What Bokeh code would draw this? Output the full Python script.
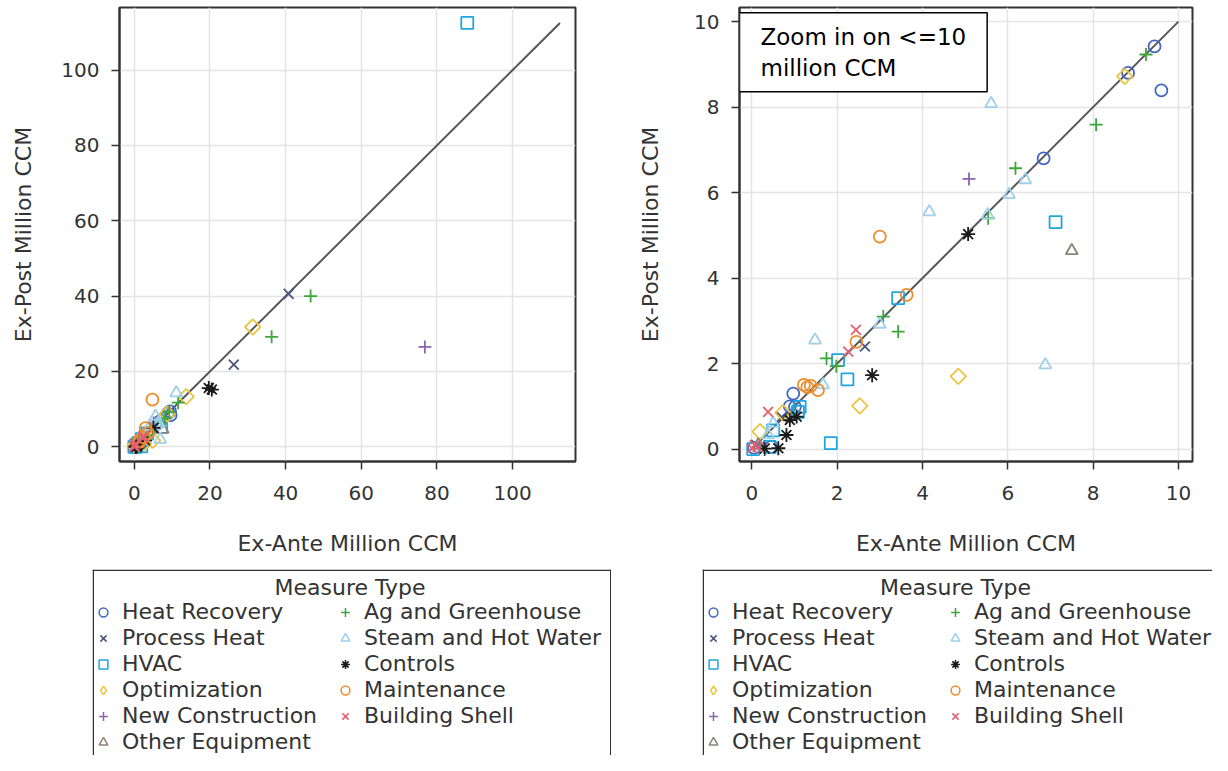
import math
from bokeh.plotting import figure
from bokeh.models import Range1d, FixedTicker, Legend, LegendItem, Label, Span, Spacer
from bokeh.layouts import row, column
from bokeh.embed import file_html
from bokeh.resources import INLINE

# ---------------- data (Ex-Ante, Ex-Post, million CCM) ----------------
categories = ["Heat Recovery", "Process Heat", "HVAC", "Optimization", "New Construction",
              "Other Equipment", "Ag and Greenhouse", "Steam and Hot Water", "Controls",
              "Maintenance", "Building Shell"]

heat_recovery_ante = [9.44, 8.82, 9.60, 6.84, 0.97, 0.89, 1.01, 0.46, 0.05]
heat_recovery_post = [9.42, 8.80, 8.39, 6.80, 1.30, 1.00, 0.99, 0.05, 0.03]
process_heat_ante = [40.8, 26.3, 2.65, 0.10, 0.70]
process_heat_post = [40.6, 21.8, 2.40, 0.10, 0.75]
hvac_ante = [88.0, 7.12, 3.43, 2.02, 2.24, 1.85, 1.08, 1.12, 0.50, 0.42, 0.03]
hvac_post = [112.5, 5.31, 3.53, 2.08, 1.63, 0.14, 0.87, 0.99, 0.44, 0.05, 0.00]
optimization_ante = [31.3, 13.7, 8.74, 4.84, 2.53, 0.19, 0.73]
optimization_post = [31.8, 13.3, 8.72, 1.70, 1.01, 0.41, 0.85]
new_construction_ante = [76.8, 5.09]
new_construction_post = [26.5, 6.32]
other_equipment_ante = [7.50, 0.15]
other_equipment_post = [4.64, 0.10]
ag_greenhouse_ante = [46.6, 36.3, 11.6, 9.24, 8.07, 6.18, 5.54, 3.08, 3.43, 1.75, 1.98]
ag_greenhouse_post = [40.0, 29.2, 11.7, 9.23, 7.59, 6.57, 5.40, 3.10, 2.75, 2.12, 1.94]
steam_hot_water_ante = [11.1, 5.61, 6.41, 6.03, 4.16, 5.53, 3.00, 1.48, 6.88, 1.67, 0.50, 0.38]
steam_hot_water_post = [14.3, 8.08, 6.30, 5.95, 5.55, 5.48, 2.92, 2.55, 1.97, 1.50, 0.60, 0.33]
controls_ante = [19.7, 20.5, 5.07, 2.82, 0.89, 1.05, 0.81, 0.62, 0.30]
controls_post = [15.6, 15.2, 5.03, 1.73, 0.68, 0.76, 0.33, 0.02, 0.01]
maintenance_ante = [4.8, 3.00, 3.63, 2.45, 1.22, 1.38, 1.55, 1.30]
maintenance_post = [12.5, 4.97, 3.61, 2.51, 1.50, 1.48, 1.38, 1.45]
building_shell_ante = [2.44, 2.26, 0.38, 0.07, 0.14, 0.00]
building_shell_post = [2.79, 2.28, 0.87, 0.09, 0.05, 0.02]

series = [
    (heat_recovery_ante, heat_recovery_post), (process_heat_ante, process_heat_post),
    (hvac_ante, hvac_post), (optimization_ante, optimization_post),
    (new_construction_ante, new_construction_post), (other_equipment_ante, other_equipment_post),
    (ag_greenhouse_ante, ag_greenhouse_post), (steam_hot_water_ante, steam_hot_water_post),
    (controls_ante, controls_post), (maintenance_ante, maintenance_post),
    (building_shell_ante, building_shell_post),
]

full_ticks = [0, 20, 40, 60, 80, 100]
zoom_ticks = [0, 2, 4, 6, 8, 10]
full_range = (-3.9, 116.6)
zoom_range = (-0.29, 10.33)
all_values = [v for a, b in series for v in a + b]
diag_full = [0, max(all_values)]
diag_zoom = [0, 10]

# ---------------- styles ----------------
markers = ["circle", "x", "square", "square", "cross", "triangle", "cross", "triangle",
           "asterisk", "circle", "x"]
legend_markers = ["circle", "x", "square", "diamond", "cross", "triangle", "cross", "triangle",
                  "asterisk", "circle", "x"]
angles = [0, 0, 0, math.pi / 4, 0, 0, 0, 0, 0, 0, 0]
sizes = [12, 14, 12, 11, 13, 12, 13, 12, 14, 12, 14]
colors = ["#4267c2", "#4a5580", "#1fa6df", "#eac443", "#8d63b0", "#8e8378", "#3da63a",
          "#9fd0ea", "#1a1a1a", "#ee8c2c", "#e06070"]

FONT = "DejaVu Sans"
TXT = "#333333"
ROW1_H = 569
LEG_H = 186


def make_panel(width, border_left, border_right, rng, ticks, diag, label_standoff_y):
    p = figure(width=width, height=ROW1_H, output_backend="svg", toolbar_location=None,
               x_range=Range1d(*rng), y_range=Range1d(*rng),
               min_border_left=border_left, min_border_right=border_right,
               min_border_top=7, min_border_bottom=ROW1_H - 7 - 454,
               x_axis_label="Ex-Ante Million CCM", y_axis_label="Ex-Post Million CCM")
    p.xaxis.ticker = FixedTicker(ticks=ticks)
    p.yaxis.ticker = FixedTicker(ticks=ticks)
    for ax in (p.xaxis[0], p.yaxis[0]):
        ax.major_label_text_font = FONT
        ax.major_label_text_font_size = "20px"
        ax.major_label_text_color = TXT
        ax.axis_label_text_font = FONT
        ax.axis_label_text_font_size = "22px"
        ax.axis_label_text_font_style = "normal"
        ax.axis_label_text_color = TXT
        ax.major_tick_in = 0
        ax.major_tick_out = 8
        ax.minor_tick_in = 0
        ax.minor_tick_out = 0
        ax.major_tick_line_color = "#333333"
        ax.major_tick_line_width = 1.5
        ax.axis_line_color = "#333333"
        ax.axis_line_width = 2
    p.xaxis.major_label_standoff = 16
    p.yaxis.major_label_standoff = 12
    p.xaxis.axis_label_standoff = 28
    p.yaxis.axis_label_standoff = label_standoff_y
    p.grid.grid_line_color = "#e4e4e4"
    p.grid.grid_line_width = 1.5
    p.outline_line_color = "#333333"
    p.outline_line_width = 2
    p.outline_line_alpha = 1
    p.line(diag, diag, line_color="#555555", line_width=2)
    for (xa, ya), m, a, s, c in zip(series, markers, angles, sizes, colors):
        p.scatter(xa, ya, marker=m, angle=a, size=s, fill_color=None, line_color=c,
                  line_width=1.8)
    return p


p1 = make_panel(600, 119, 25, full_range, full_ticks, diag_full, 22)
p2 = make_panel(612, 139, 20, zoom_range, zoom_ticks, diag_zoom, 28)

p2.add_layout(Label(x=zoom_range[0], y=10.21, text="Zoom in on <=10\nmillion CCM",
                    text_align="left", text_baseline="top", text_font=FONT,
                    text_font_size="23px", text_color="black", padding=(21, 11),
                    border_line_color="black", border_line_width=1.5,
                    background_fill_color="white"))


def legend_fig(width, height, right_border):
    lf = figure(width=width, height=height, output_backend="svg", toolbar_location=None,
                x_range=Range1d(0, width), y_range=Range1d(0, height),
                x_axis_location=None, y_axis_location=None, min_border=0)
    lf.grid.visible = False
    lf.outline_line_color = None
    items = []
    for cat, m, c in zip(categories, legend_markers, colors):
        r = lf.scatter([float("nan")], [float("nan")], marker=m, size=10,
                       fill_color=None, line_color=c, line_width=1.5)
        items.append(LegendItem(label=cat, renderers=[r]))
    leg = Legend(items=items, location="top_left", orientation="vertical", nrows=6,
                 margin=0, padding=5, spacing=1, glyph_width=22, glyph_height=22,
                 label_height=25, label_width=211, label_standoff=8,
                 title=" ", title_text_font_size="22px", title_standoff=4,
                 border_line_color=None, background_fill_alpha=0,
                 label_text_font=FONT, label_text_font_size="22px", label_text_color=TXT)
    lf.add_layout(leg)
    lf.add_layout(Label(x=width / 2 - 2, y=height - 18, text="Measure Type", text_align="center",
                        text_baseline="middle", text_font=FONT, text_font_size="22px",
                        text_color=TXT))
    lf.add_layout(Span(location=0.75, dimension="height", line_color="#333333", line_width=1.5))
    lf.add_layout(Span(location=height - 0.75, dimension="width", line_color="#333333", line_width=1.5))
    if right_border:
        lf.add_layout(Span(location=width - 0.75, dimension="height", line_color="#333333",
                           line_width=1.5))
    return lf


l1 = legend_fig(519, LEG_H, True)
l2 = legend_fig(510, LEG_H, False)

layout = column(row(p1, p2),
                row(Spacer(width=92, height=LEG_H), l1, Spacer(width=91, height=LEG_H), l2))

open("out.html", "w").write(file_html(layout, INLINE))
